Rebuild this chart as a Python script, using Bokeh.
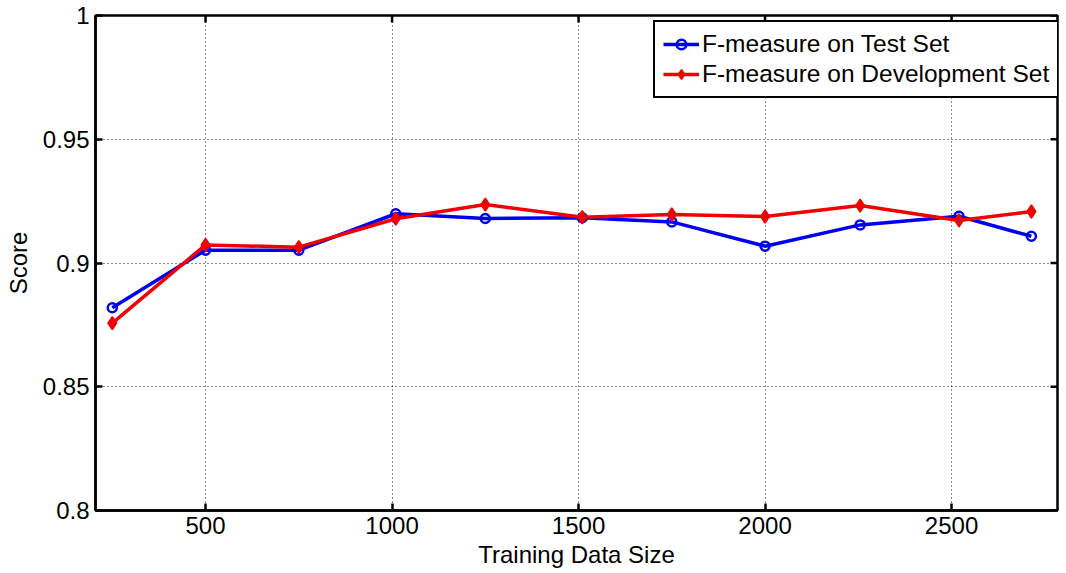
import math

from bokeh.plotting import figure
from bokeh.models import Range1d, FixedTicker, Legend, LegendItem
from bokeh.embed import file_html
from bokeh.resources import INLINE

# Learning-curve data: F-measure vs. number of training examples
train_size = [250, 500, 750, 1010, 1250, 1510, 1750, 2000, 2255, 2520, 2714]
f_test = [0.8819, 0.9052, 0.9052, 0.9199, 0.9180, 0.9183, 0.9166, 0.9068, 0.9154, 0.9189, 0.9108]
f_dev = [0.8757, 0.9073, 0.9064, 0.9179, 0.9236, 0.9185, 0.9196, 0.9188, 0.9232, 0.9172, 0.9208]

x_ticks = [500, 1000, 1500, 2000, 2500]
y_ticks = [0.8, 0.85, 0.9, 0.95, 1.0]
y_tick_labels = ["0.8", "0.85", "0.9", "0.95", "1"]

FONT = "Liberation Sans"
FS = "24px"
BLUE = "#0000f0"
RED = "#f00000"
TICK_LEN = 7

x_range = Range1d(205, 2784)
y_range = Range1d(0.8, 1.0)

p = figure(
    width=1066, height=573,
    x_range=x_range, y_range=y_range,
    output_backend="svg", toolbar_location=None,
    min_border_left=95, min_border_right=9, min_border_top=15, min_border_bottom=63,
    background_fill_color="white", border_fill_color="white",
)
# closed box around the axes
p.outline_line_color = "black"
p.outline_line_width = 2.5
p.outline_line_alpha = 1.0


def style_axis(ax, ticks):
    ax.ticker = FixedTicker(ticks=ticks)
    ax.axis_line_color = "black"
    ax.axis_line_width = 2.5
    ax.major_tick_line_color = "black"
    ax.major_tick_line_width = 2.5
    ax.major_tick_in = TICK_LEN
    ax.major_tick_out = 0
    ax.minor_tick_line_color = None
    ax.major_label_text_font = FONT
    ax.major_label_text_color = "black"
    ax.major_label_text_font_size = FS
    ax.major_label_standoff = 6
    ax.axis_label_text_font = FONT
    ax.axis_label_text_font_size = FS
    ax.axis_label_text_font_style = "normal"
    ax.axis_label_text_color = "black"


xa = p.xaxis[0]
ya = p.yaxis[0]
style_axis(xa, x_ticks)
style_axis(ya, y_ticks)
ya.major_label_overrides = {t: s for t, s in zip(y_ticks, y_tick_labels)}
xa.axis_label = "Training Data Size"
ya.axis_label = "Score"
xa.axis_label_standoff = 4
ya.axis_label_standoff = 8

# inward tick marks on the top and right sides of the box
p.ray(x=x_ticks, y=[y_range.end] * len(x_ticks), length=TICK_LEN, length_units="screen",
      angle=-math.pi / 2, line_color="black", line_width=2.5)
p.ray(x=[x_range.end] * len(y_ticks), y=y_ticks, length=TICK_LEN, length_units="screen",
      angle=math.pi, line_color="black", line_width=2.5)

for g in (p.xgrid[0], p.ygrid[0]):
    g.grid_line_color = "#111111"
    g.grid_line_dash = "1 3"
    g.grid_line_width = 1
p.xgrid[0].ticker = FixedTicker(ticks=x_ticks)
p.ygrid[0].ticker = FixedTicker(ticks=y_ticks)

bl = p.line(train_size, f_test, line_color=BLUE, line_width=3.5)
bs = p.scatter(train_size, f_test, marker="circle", size=9, line_color=BLUE,
               line_width=2.5, fill_color=None)
rl = p.line(train_size, f_dev, line_color=RED, line_width=3.5)
rs = p.scatter(train_size, f_dev, marker="diamond", size=13, line_color=RED,
               line_width=1.5, fill_color=RED)

legend = Legend(
    items=[
        LegendItem(label="F-measure on Test Set", renderers=[bl, bs]),
        LegendItem(label="F-measure on Development Set", renderers=[rl, rs]),
    ],
    location=(558, 412),
    margin=0,
    padding=8,
    spacing=2,
    glyph_width=36,
    glyph_height=24,
    label_height=24,
    label_standoff=3,
    border_line_color="black",
    border_line_alpha=1.0,
    border_line_width=2.5,
    background_fill_color="white",
    background_fill_alpha=1.0,
    label_text_font=FONT,
    label_text_font_size="24.5px",
    label_text_color="black",
)
p.add_layout(legend)

open("out.html", "w").write(file_html(p, INLINE))
